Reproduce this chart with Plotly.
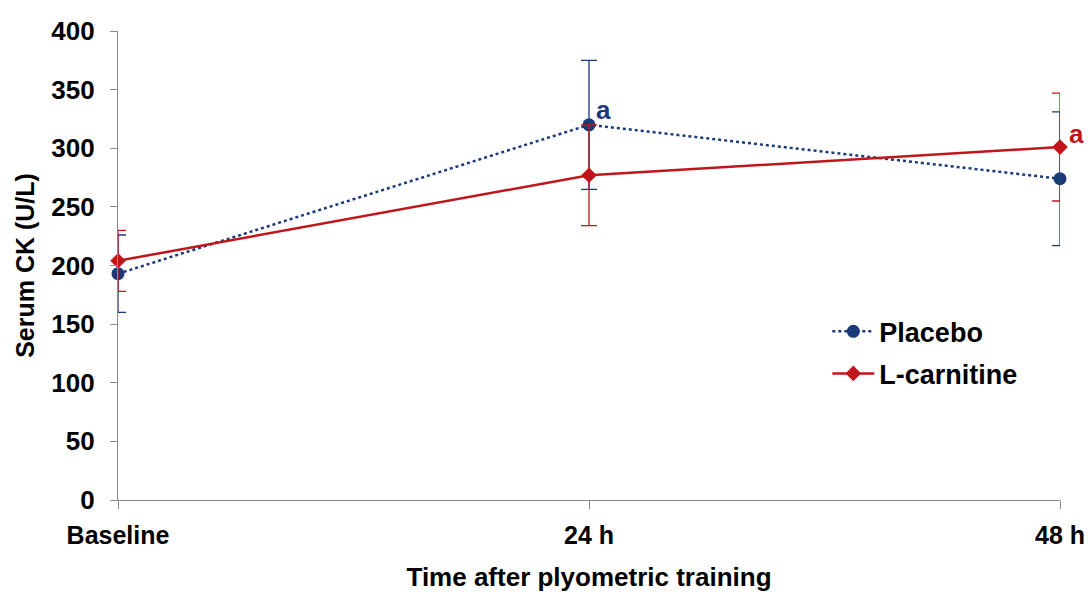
import plotly.graph_objects as go

categories = ["Baseline", "24 h", "48 h"]
placebo = [193, 320, 274]
placebo_err = [33, 55, 57]
lcarn = [204, 277, 301]
lcarn_err = [26, 43, 46]
y_ticks = [0, 50, 100, 150, 200, 250, 300, 350, 400]

BLUE = "#1B3A78"
RED = "#C0161B"
AX = "#8a8a8a"
FONT = "Liberation Sans, Arial, sans-serif"

x = list(range(len(categories)))

fig = go.Figure()
fig.add_trace(go.Scatter(
    x=x, y=placebo, name="Placebo", mode="lines+markers", legendgroup="p",
    line=dict(color=BLUE, width=2.5, dash="dot"),
    marker=dict(symbol="circle", size=13, color=BLUE),
    error_y=dict(type="data", array=placebo_err, color=BLUE, thickness=1.3, width=8),
    cliponaxis=False,
))
fig.add_trace(go.Scatter(
    x=x, y=lcarn, name="L-carnitine", mode="lines+markers", legendgroup="l",
    line=dict(color=RED, width=2.5),
    marker=dict(symbol="diamond", size=12, color=RED),
    error_y=dict(type="data", array=lcarn_err, color=RED, thickness=1.3, width=8),
    cliponaxis=False,
))

fig.add_annotation(x=x[1], y=placebo[1], text="<b>a</b>", showarrow=False,
                   xanchor="left", yanchor="bottom", xshift=5, yshift=-2,
                   font=dict(family=FONT, size=26, color=BLUE))
fig.add_annotation(x=x[2], y=lcarn[2], text="<b>a</b>", showarrow=False,
                   xanchor="left", yanchor="bottom", xshift=7, yshift=-4,
                   font=dict(family=FONT, size=26, color=RED))

fig.update_layout(
    width=1088, height=599,
    margin=dict(l=118, r=28, t=31, b=99, autoexpand=False),
    plot_bgcolor="white", paper_bgcolor="white",
    font=dict(family=FONT, size=26, color="black"),
    showlegend=True,
    legend=dict(x=0.753, y=0.411, xanchor="left", yanchor="top",
                font=dict(family=FONT, size=27, color="black", weight="bold"),
                bgcolor="rgba(0,0,0,0)", itemwidth=42, tracegroupgap=4,
                traceorder="grouped"),
    xaxis=dict(
        range=[0, 2], tickvals=x, ticktext=[f"<b>{c}</b>" for c in categories],
        showline=True, linecolor=AX, linewidth=1.3, ticks="outside",
        ticklen=8, tickcolor=AX, showgrid=False, zeroline=False, automargin=False,
        tickfont=dict(size=25, family=FONT), ticklabelstandoff=5,
        title=dict(text="<b>Time after plyometric training</b>",
                   font=dict(size=26, family=FONT), standoff=19),
    ),
    yaxis=dict(
        range=[0, 400], tickvals=y_ticks, ticktext=[f"<b>{v}</b>" for v in y_ticks],
        showline=True, linecolor=AX, linewidth=1.3, ticks="outside",
        ticklen=7, tickcolor=AX, showgrid=False, zeroline=False, automargin=False,
        tickfont=dict(size=26, family=FONT), ticklabelstandoff=10,
        title=dict(text="<b>Serum CK (U/L)</b>", font=dict(size=25, family=FONT), standoff=9),
    ),
)

fig.write_html("out.html", config={"displayModeBar": False},
               post_script="document.body.style.margin='0';document.body.style.overflow='hidden';")
